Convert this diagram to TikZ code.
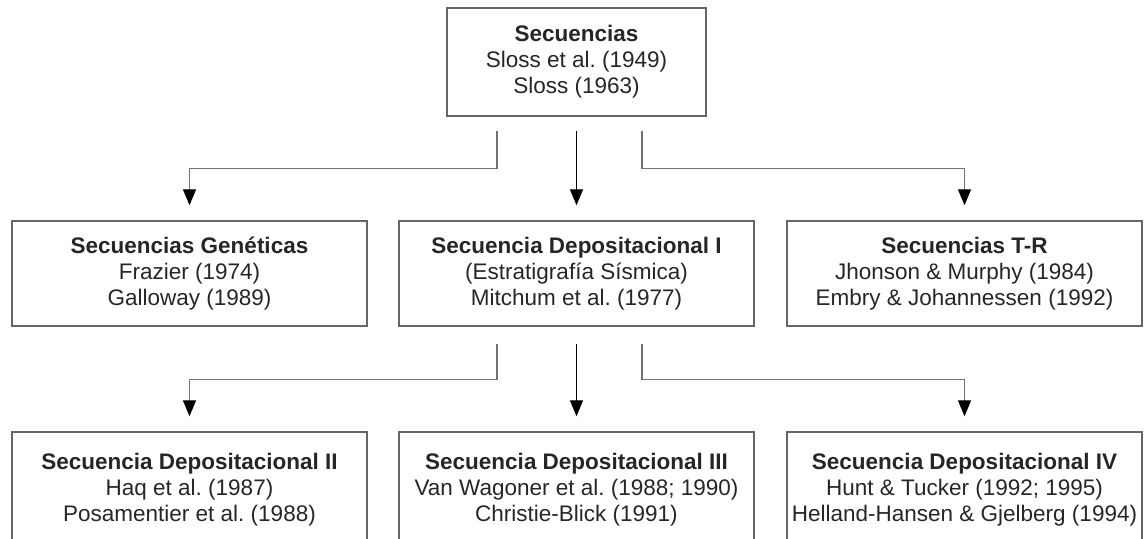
\documentclass[tikz,border=0pt]{standalone}
\usepackage{fontspec}
\setmainfont{Liberation Sans}
\usetikzlibrary{arrows.meta,positioning}
\frenchspacing

\tikzset{
  box/.style={draw=black!60, line width=1.4pt, rectangle, minimum width=355pt,
    minimum height=105pt, align=center, text=black!85,
    font=\fontsize{22.5}{26}\selectfont},
  link/.style={draw=black!55, line width=1.4pt,
    -{Triangle[length=16pt,width=13pt,color=black]},
    shorten <=14pt, shorten >=15pt},
  mainlink/.style={link, draw=black},
}

\begin{document}
\begin{tikzpicture}[x=1pt,y=1pt,node distance=211.5pt,on grid]
		\useasboundingbox (0,0) rectangle (1147,538);
		\clip (0,0) rectangle (1147,538);
		% niveles
		\node[box, minimum width=259pt, minimum height=108pt] (sec) at (576.5,476)
			{\textbf{Secuencias}\\Sloss et al. (1949)\\Sloss (1963)};
		\node[box] (dep1) [below=of sec]
			{\textbf{Secuencia Depositacional I}\\(Estratigrafía Sísmica)\\Mitchum et al. (1977)};
		\node[box] (gen) [left=387pt of dep1]
			{\textbf{Secuencias Genéticas}\\Frazier (1974)\\Galloway (1989)};
		\node[box] (tr) [right=388pt of dep1]
			{\textbf{Secuencias T-R}\\Jhonson \& Murphy (1984)\\Embry \& Johannessen (1992)};
		\node[box, minimum height=115pt] (dep3) [below=216pt of dep1]
			{\textbf{Secuencia Depositacional III}\\Van Wagoner et al. (1988; 1990)\\Christie-Blick (1991)};
		\node[box, minimum height=115pt] (dep2) [left=387pt of dep3]
			{\textbf{Secuencia Depositacional II}\\Haq et al. (1987)\\Posamentier et al. (1988)};
		\node[box, minimum height=115pt] (dep4) [right=388pt of dep3]
			{\textbf{Secuencia Depositacional IV}\\Hunt \& Tucker (1992; 1995)\\Helland-Hansen \& Gjelberg (1994)};
		% conectores
		\draw[link] ([xshift=-79.5pt]sec.south) -- ++(0,-52) -| (gen.north);
		\draw[mainlink] (sec) -- (dep1);
		\draw[link] ([xshift=65.5pt]sec.south) -- ++(0,-52) -| (tr.north);
		\draw[link, shorten <=17pt] ([xshift=-79.5pt]dep1.south) -- ++(0,-53) -| (dep2.north);
		\draw[mainlink, shorten <=17pt] (dep1) -- (dep3);
		\draw[link, shorten <=17pt] ([xshift=65.5pt]dep1.south) -- ++(0,-53) -| (dep4.north);
	\end{tikzpicture}
\end{document}
